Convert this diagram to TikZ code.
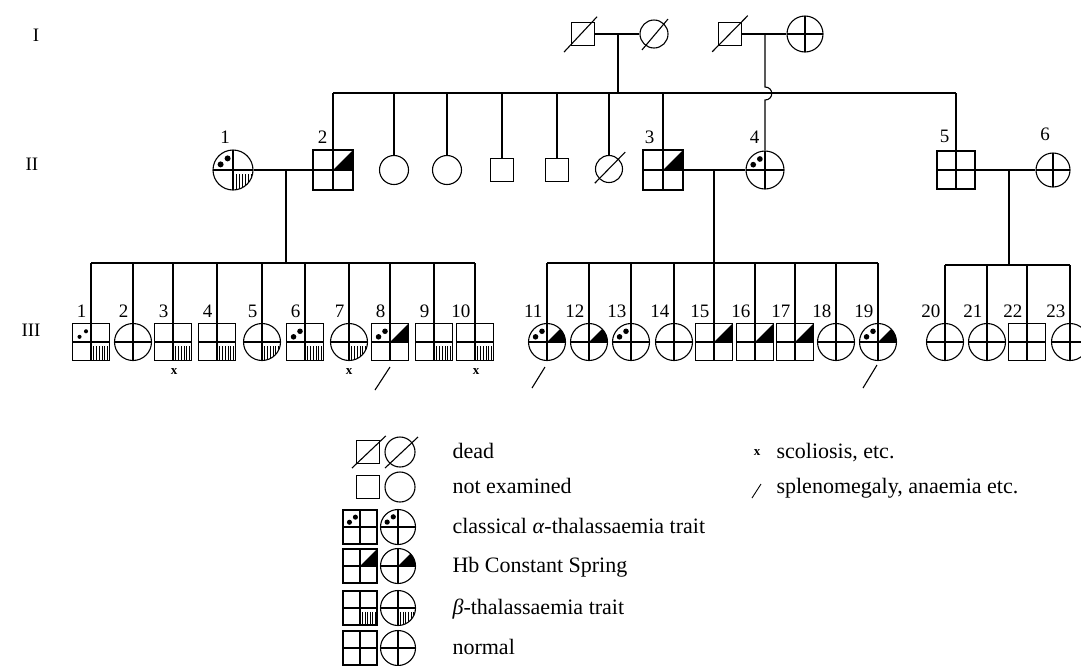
\documentclass[tikz,border=0pt]{standalone}
\usepackage{fontspec}
\setmainfont{Liberation Serif}
\newcommand\Per[6]{%
  \node[#1=#5] (#2) at (#3,#4) {};
  \pgfmathsetmacro\hh{#5/2}%
  \begin{scope}[shift={(#3,#4)},x=\hh pt,y=-\hh pt]#6\end{scope}}
\newcommand\Xc{\draw (0,-1)--(0,1) (-1,0)--(1,0);}
\newcommand\Dt[1][0.15]{\fill (-0.62,-0.28) circle[radius=#1] (-0.27,-0.58) circle[radius=#1];}
\newcommand\Hs{\fill (0,0)--(1,0)--(1,-1)--cycle;}
\newcommand\Hc{\begin{scope}\clip (0,0) circle[radius=1];\fill (0,0)--(1.3,0)--(1.3,-1.3)--cycle;\end{scope}}
\newcommand\Bs{\foreach \u in {0.15,0.3,0.45,0.6,0.75,0.9}{\draw[hat] (\u,0.22)--(\u,1);}}
\newcommand\Bc{\begin{scope}\clip (0,0) circle[radius=1];\foreach \u in {0.15,0.3,0.45,0.6,0.75,0.9}{\draw[hat] (\u,0.22)--(\u,1.1);}\end{scope}}
\begin{document}
\begin{tikzpicture}[x=1pt,y=-1pt,line width=1.1pt,
  sqn/.style={draw,rectangle,inner sep=0pt,minimum size=#1},
  cin/.style={draw,circle,inner sep=0pt,minimum size=#1},
  hat/.style={line width=0.8pt},
  lab/.style={font=\fontsize{19}{20}\selectfont,inner sep=0pt,anchor=base east},
  gen/.style={font=\fontsize{19}{20}\selectfont,inner sep=0pt},
  leg/.style={font=\fontsize{22}{24}\selectfont,inner sep=0pt,anchor=base west},
  xm/.style={font=\fontsize{13}{13}\selectfont\bfseries,inner sep=0pt}]
\useasboundingbox (0,0) rectangle (1081,665);
% generation labels
\node[gen] (gI) at (36,35) {I};
\node[gen] (gII) at (32,164) {II};
\node[gen] (gIII) at (31,330) {III};
% ---------- generation I
\Per{sqn}{I1}{583}{34}{23}{\draw (-1.65,1.57)--(1.22,-1.5);}
\Per{cin}{I2}{654}{34}{28}{\draw (-0.86,1.14)--(1,-1.07);}
\Per{sqn}{I3}{730}{34}{23}{\draw (-1.55,1.55)--(1.55,-1.6);}
\Per{cin}{I4}{805}{34}{36}{\Xc}
\draw (I1) -- (I2);
\draw (I3) -- (I4);
\coordinate (m1) at (618,34);
\coordinate (m2) at (765,34);
\coordinate (sII) at (0,93);
% ---------- generation II
\Per{cin}{II1}{233}{170}{40}{\Xc\Dt\Bc}
\Per{sqn}{II2}{333}{170}{40}{\Xc\Hs}
\Per{cin}{S1}{394}{170}{29}{}
\Per{cin}{S2}{447}{170}{29}{}
\Per{sqn}{S3}{502}{170}{23}{}
\Per{sqn}{S4}{557}{170}{23}{}
\Per{cin}{S5}{609}{169}{27}{\draw (-1.05,1.05)--(1.2,-1.25);}
\Per{sqn}{II3}{663}{170}{40}{\Xc\Hs}
\Per{cin}{II4}{765}{170}{38}{\Xc\Dt}
\Per{sqn}{II5}{956}{170}{38}{\Xc}
\Per{cin}{II6}{1053}{170}{34}{\Xc}
\node[gen,anchor=base] (l1) at (225,143) {1};
\node[lab] (l2) at (328,143) {2};
\node[lab] (l3) at (655,143) {3};
\node[lab] (l4) at (760,143) {4};
\node[lab] (l5) at (950,142) {5};
\node[gen,anchor=base] (l6) at (1045,140) {6};
% sibship of generation II
\draw (m1) -- (m1 |- sII);
\draw (II2.north |- sII) -- (II5.north |- sII);
\foreach \n in {II2,S1,S2,S3,S4,S5,II3,II5} \draw (\n.north) -- (\n.north |- sII);
\draw (m2) -- (765,87) .. controls (774,87) and (774,100) .. (765,100) -- (II4.north);
% marriages
\draw (II1) -- (II2);
\draw (II3) -- (II4);
\draw (II5) -- (II6);
\coordinate (m3) at (286,170);
\coordinate (m4) at (714,170);
\coordinate (m5) at (1009,170);
\coordinate (sA) at (0,263);
\coordinate (sC) at (0,265);
\draw (m3) -- (m3 |- sA);
\draw (m4) -- (m4 |- sA);
\draw (m5) -- (m5 |- sC);
% ---------- generation III
\def\yy{342}
\Per{sqn}{c1}{91}{\yy}{37}{\Xc\Dt[0.11]\Bs}
\Per{cin}{c2}{133}{\yy}{37}{\Xc}
\Per{sqn}{c3}{173}{\yy}{37}{\Xc\Bs}
\Per{sqn}{c4}{217}{\yy}{37}{\Xc\Bs}
\Per{cin}{c5}{262}{\yy}{37}{\Xc\Bc}
\Per{sqn}{c6}{305}{\yy}{37}{\Xc\Dt\Bs}
\Per{cin}{c7}{349}{\yy}{37}{\Xc\Bc}
\Per{sqn}{c8}{390}{\yy}{37}{\Xc\Dt\Hs}
\Per{sqn}{c9}{434}{\yy}{37}{\Xc\Bs}
\Per{sqn}{c10}{475}{\yy}{37}{\Xc\Bs}
\Per{cin}{c11}{547}{\yy}{37}{\Xc\Dt\Hc}
\Per{cin}{c12}{589}{\yy}{37}{\Xc\Hc}
\Per{cin}{c13}{631}{\yy}{37}{\Xc\Dt}
\Per{cin}{c14}{674}{\yy}{37}{\Xc}
\Per{sqn}{c15}{714}{\yy}{37}{\Xc\Hs}
\Per{sqn}{c16}{755}{\yy}{37}{\Xc\Hs}
\Per{sqn}{c17}{795}{\yy}{37}{\Xc\Hs}
\Per{cin}{c18}{836}{\yy}{37}{\Xc}
\Per{cin}{c19}{878}{\yy}{37}{\Xc\Dt\Hc}
\Per{cin}{c20}{945}{\yy}{37}{\Xc}
\Per{cin}{c21}{987}{\yy}{37}{\Xc}
\Per{sqn}{c22}{1027}{\yy}{37}{\Xc}
\Per{cin}{c23}{1070}{\yy}{37}{\Xc}
\draw (c1.north |- sA) -- (c10.north |- sA);
\draw (c11.north |- sA) -- (c19.north |- sA);
\draw (c20.north |- sC) -- (c23.north |- sC);
\foreach \i in {1,...,19} {
  \draw (c\i.north) -- (c\i.north |- sA);
  \node[lab] (n\i) at ([xshift=-4pt]c\i.north |- 0,317) {\i};
}
\foreach \i in {20,...,23} {
  \draw (c\i.north) -- (c\i.north |- sC);
  \node[lab] (n\i) at ([xshift=-4pt]c\i.north |- 0,317) {\i};
}
% marks under generation III
\node[xm] (x3) at (174,372) {x};
\node[xm] (x7) at (349,372) {x};
\node[xm] (x10) at (476,372) {x};
\coordinate (a8) at (375,390);
\coordinate (a11) at (532,388);
\coordinate (a19) at (863,388);
\draw (a8) -- ++(15,-23);
\draw (a11) -- ++(13,-21);
\draw (a19) -- ++(14,-23);
% ---------- legend
\Per{sqn}{L1a}{368}{452}{23}{\draw (-1.4,1.4)--(1.55,-1.4);}
\Per{cin}{L1b}{400}{452}{30}{\draw (-1,1.07)--(1.2,-1);}
\Per{sqn}{L2a}{368}{487}{23}{}
\Per{cin}{L2b}{400}{487}{30}{}
\Per{sqn}{L3a}{360}{527}{34}{\Xc\Dt}
\Per{cin}{L3b}{398}{527}{35}{\Xc\Dt}
\Per{sqn}{L4a}{360}{566}{34}{\Xc\Hs}
\Per{cin}{L4b}{398}{566}{35}{\Xc\Hc}
\Per{sqn}{L5a}{360}{608}{34}{\Xc\Bs}
\Per{cin}{L5b}{398}{608}{35}{\Xc\Bc}
\Per{sqn}{L6a}{360}{648}{34}{\Xc}
\Per{cin}{L6b}{398}{648}{35}{\Xc}
\node[leg] (t1) at (452,458) {dead};
\node[leg] (t2) at (452,493) {not examined};
\node[leg] (t3) at (452,533) {classical \textit{α}-thalassaemia trait};
\node[leg] (t4) at (452,572) {Hb Constant Spring};
\node[leg] (t5) at (452,614) {\textit{β}-thalassaemia trait};
\node[leg] (t6) at (452,654) {normal};
\node[xm] (lx) at (757,453) {x};
\node[leg] (t7) at (776,458) {scoliosis, etc.};
\coordinate (ls) at (752,498);
\draw[line width=0.9pt] (ls) -- ++(9,-14);
\node[leg] (t8) at (776,493) {splenomegaly, anaemia etc.};
\end{tikzpicture}
\end{document}
